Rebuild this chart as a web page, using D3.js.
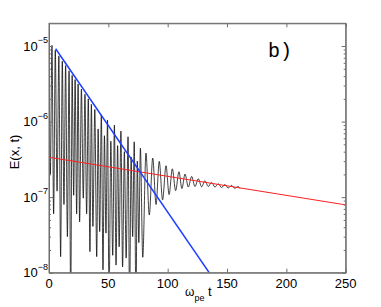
<!DOCTYPE html>
<html><head><meta charset="utf-8">
<script src="https://cdn.jsdelivr.net/npm/d3@7"></script>
<style>html,body{margin:0;padding:0;background:#fff;}svg{display:block;}</style>
</head><body>
<script>
// ---- data ----
const xTicks = [0, 50, 100, 150, 200, 250];
const yTickExps = [-8, -7, -6, -5];
const panelLabel = "b)";
const yTitle = "E(x, t)";

// blue fit line (fast damping)
const blueT = [5.6, 135];
const blueE = [9.2e-6, 1.0e-8];
// red fit line (slow damping)
const redT = [0, 250];
const redE = [3.37e-7, 7.9e-8];

// black curve: successive extrema (peak / trough)
const blackT = [0,1.1,2.5,3.9,5.3,6.8,8.3,9.8,11.2,12.6,14.0,15.5,16.9,18.3,19.5,20.8,22.0,23.3,24.5,25.8,
  27.3,28.9,30.3,31.7,33.1,34.5,35.7,37.0,38.6,40.2,41.4,42.7,44.1,45.5,46.7,48.0,49.3,50.6,52.1,53.7,
  55.1,56.5,57.8,59.1,60.6,62.0,63.5,65.0,66.6,67.9,69.2,70.5,71.8,73.3,74.4,75.7,77.0,79.0,81.7,84.5,
  87.4,90.2,92.9,95.7,98.6,101.2,103.9,106.7,109.5,112.0,114.6,117.4,120.2,123.0,125.8,128.6,131.4,134.2,137.0,139.8,
  142.6,145.4,148.2,151.0,153.8,156.6,159.4,161.0];
const blackE = [1.6e-5,2e-7,1.02e-5,6e-8,8.8e-6,1.2e-7,7.4e-6,1.63e-8,6.3e-6,8e-8,5.5e-6,3e-8,4.7e-6,4e-9,4.1e-6,1.06e-7,3.6e-6,6e-8,3.15e-6,4.7e-8,
  2.7e-6,9.7e-8,2.3e-6,6e-8,2.0e-6,1.9e-8,1.7e-6,4.1e-8,1.45e-6,1.63e-8,8e-7,3.5e-8,1.23e-6,1.09e-8,6.5e-7,3.34e-8,1.05e-6,4e-9,5.5e-7,1.7e-8,
  9.0e-7,1.26e-8,4.8e-7,2.2e-8,7.5e-7,1.19e-8,4.0e-7,1.56e-8,6.3e-7,4e-9,3.4e-7,3e-8,5.4e-7,4e-9,3.0e-7,2.5e-8,4.45e-7,1.6e-8,3.83e-7,5.8e-8,
  3.29e-7,8e-8,2.97e-7,9.2e-8,2.6e-7,1.08e-7,2.37e-7,1.22e-7,2.17e-7,1.3e-7,2.02e-7,1.36e-7,1.88e-7,1.38e-7,1.75e-7,1.37e-7,1.65e-7,1.38e-7,1.57e-7,1.36e-7,
  1.50e-7,1.34e-7,1.47e-7,1.32e-7,1.43e-7,1.31e-7,1.38e-7,1.3e-7];

// ---- drawing ----
const W = 381, H = 307;
const L = 49, R = 345.7, T = 23.3, B = 272.7;
const svg = d3.select("body").append("svg").attr("width", W).attr("height", H);
svg.append("rect").attr("width", W).attr("height", H).attr("fill", "#fff");

const x = d3.scaleLinear().domain([0, 250]).range([L, R]);
const y = d3.scaleLog().domain([1e-8, 2e-5]).range([B, T]);

svg.append("clipPath").attr("id", "clip").append("rect")
  .attr("x", L).attr("y", T).attr("width", R - L).attr("height", B - T);

const g = svg.append("g").attr("clip-path", "url(#clip)");

const black = blackT.map((t, i) => [t, blackE[i]]);
g.append("path").datum(black)
  .attr("fill", "none").attr("stroke", "#000").attr("stroke-width", 0.75)
  .attr("d", d3.line().x(d => x(d[0])).y(d => y(d[1])).curve(d3.curveMonotoneX));

const red = redT.map((t, i) => [t, redE[i]]);
g.append("path").datum(red)
  .attr("fill", "none").attr("stroke", "#ff2020").attr("stroke-width", 1)
  .attr("d", d3.line().x(d => x(d[0])).y(d => y(d[1])));

const blue = blueT.map((t, i) => [t, blueE[i]]);
g.append("path").datum(blue)
  .attr("fill", "none").attr("stroke", "#2040ff").attr("stroke-width", 1.5)
  .attr("d", d3.line().x(d => x(d[0])).y(d => y(d[1])));

// axes box with inward ticks
const axisColor = "#6e6e6e";
const axB = svg.append("g").attr("transform", `translate(0,${B})`)
  .call(d3.axisBottom(x).tickValues(xTicks).tickSizeInner(-4).tickSizeOuter(0).tickFormat(""));
const axT = svg.append("g").attr("transform", `translate(0,${T})`)
  .call(d3.axisTop(x).tickValues(xTicks).tickSizeInner(-4).tickSizeOuter(0).tickFormat(""));

const majorY = yTickExps.map(e => Math.pow(10, e));
const minorY = [];
yTickExps.forEach(e => { for (let k = 2; k <= 9; k++) { const v = k * Math.pow(10, e); if (v <= 2e-5) minorY.push(v); } });
minorY.push(2e-5);

[[d3.axisLeft, L, -1], [d3.axisRight, R, 1]].forEach(([fn, px]) => {
  svg.append("g").attr("transform", `translate(${px},0)`)
    .call(fn(y).tickValues(majorY).tickSizeInner(-4).tickSizeOuter(0).tickFormat(""));
  svg.append("g").attr("transform", `translate(${px},0)`)
    .call(fn(y).tickValues(minorY.filter(v => v < 2e-5)).tickSizeInner(-2).tickSizeOuter(0).tickFormat(""))
    .select(".domain").remove();
});
svg.selectAll(".domain, .tick line").attr("stroke", axisColor).attr("stroke-width", 1);

svg.append("rect").attr("x", L).attr("y", T).attr("width", R - L).attr("height", B - T)
  .attr("fill", "none").attr("stroke", axisColor).attr("stroke-width", 1);

const font = "'Liberation Sans', Arial, Helvetica, sans-serif";
// x tick labels
svg.append("g").selectAll("text").data(xTicks).join("text")
  .attr("x", d => x(d)).attr("y", B + 15)
  .attr("text-anchor", "middle").attr("font-family", font).attr("font-size", 13).attr("fill", "#000")
  .text(d => d);

// y tick labels 10^e
const yl = svg.append("g").selectAll("text").data(yTickExps).join("text")
  .attr("x", L - 1).attr("y", d => y(Math.pow(10, d)) + 4.7)
  .attr("text-anchor", "end").attr("font-family", font).attr("font-size", 13).attr("fill", "#000");
yl.append("tspan").text("10");
yl.append("tspan").attr("dy", -7.5).attr("font-size", 9).text(d => "\u2212" + Math.abs(d));

// y title
svg.append("text").attr("transform", `translate(19,${(T + B) / 2 + 4}) rotate(-90)`)
  .attr("text-anchor", "middle").attr("font-family", font).attr("font-size", 13).attr("fill", "#000")
  .text(yTitle);

// x title: ω_pe t
const xt = svg.append("text").attr("x", (L + R) / 2 + 1).attr("y", B + 23)
  .attr("text-anchor", "middle").attr("font-family", font).attr("font-size", 12).attr("fill", "#000");
xt.append("tspan").text("\u03c9");
xt.append("tspan").attr("dy", 5).attr("font-size", 9).text("pe");
xt.append("tspan").attr("dy", -5).attr("font-size", 13).text(" t");

// panel label
svg.append("text").attr("x", 268).attr("y", 57)
  .attr("font-family", "'Liberation Mono', 'Courier New', monospace").attr("font-size", 20).attr("fill", "#000")
  .text(panelLabel);
</script>
</body></html>
